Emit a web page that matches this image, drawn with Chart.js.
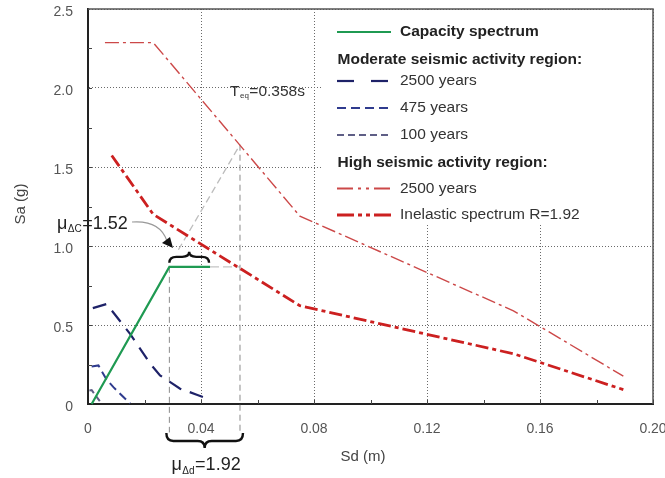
<!DOCTYPE html>
<html>
<head>
<meta charset="utf-8">
<script src="https://cdn.jsdelivr.net/npm/chart.js@4/dist/chart.umd.min.js"></script>
<style>
  html, body { margin: 0; padding: 0; background: #fff; }
  #wrap { width: 665px; height: 478px; position: relative; }
</style>
</head>
<body>
<div id="wrap"><canvas id="c" width="665" height="478"></canvas></div>
<script>
// ---------------- DATA ----------------
const xTickLabels = ['0', '0.04', '0.08', '0.12', '0.16', '0.20'];
const yTickLabels = ['0', '0.5', '1.0', '1.5', '2.0', '2.5'];

const capacitySd = [0.0013, 0.0288, 0.0432];
const capacitySa = [0.0, 0.868, 0.868];

const mod2500Sd = [0.0017, 0.0066, 0.0149, 0.0219, 0.0255, 0.0326, 0.0385, 0.0432];
const mod2500Sa = [0.607, 0.633, 0.444, 0.258, 0.181, 0.097, 0.059, 0.028];

const mod475Sd = [0.0013, 0.0037, 0.0066, 0.0090, 0.0119, 0.0149];
const mod475Sa = [0.238, 0.244, 0.154, 0.107, 0.055, 0.003];

const mod100Sd = [0.0005, 0.0013, 0.0048];
const mod100Sa = [0.086, 0.088, 0.003];

const high2500Sd = [0.0060, 0.0231, 0.0750, 0.1506, 0.1895];
const high2500Sa = [2.287, 2.287, 1.189, 0.590, 0.176];

const inelasticSd = [0.0084, 0.0231, 0.0750, 0.1506, 0.1895];
const inelasticSa = [1.573, 1.200, 0.622, 0.318, 0.091];

// guide / annotation lines
const teqLineSd = [0.0320, 0.0538];
const teqLineSa = [0.976, 1.641];
const yieldGuideSd = [0.0288, 0.0288];
const yieldGuideSa = [0.868, -0.18];
const perfGuideSd = [0.0538, 0.0538];
const perfGuideSa = [1.641, -0.18];
const capExtSd = [0.0432, 0.0538];
const capExtSa = [0.868, 0.868];

const labels = ['Capacity spectrum', '2500 years', '475 years', '100 years', '2500 years', 'Inelastic spectrum R=1.92'];

const pts = (xs, ys) => xs.map((x, i) => ({ x: x, y: ys[i] }));

const FONT = '"Liberation Sans", Arial, sans-serif';

const datasets = [
  { label: labels[0], data: pts(capacitySd, capacitySa), borderColor: '#1f9a52', borderWidth: 2.2, borderDash: [], legendDash: [] },
  { label: labels[1], data: pts(mod2500Sd, mod2500Sa), borderColor: '#1e2268', borderWidth: 2.2, borderDash: [14, 9], legendDash: [17, 17] },
  { label: labels[2], data: pts(mod475Sd, mod475Sa), borderColor: '#2f3b8e', borderWidth: 2, borderDash: [9, 5], legendDash: [9, 5] },
  { label: labels[3], data: pts(mod100Sd, mod100Sa), borderColor: '#5f5f86', borderWidth: 2, borderDash: [6, 4], legendDash: [7, 4] },
  { label: labels[4], data: pts(high2500Sd, high2500Sa), borderColor: '#cc4848', borderWidth: 1.4, borderDash: [14, 4, 3, 4], legendDash: [16, 5, 3, 5, 3, 5] },
  { label: labels[5], data: pts(inelasticSd, inelasticSa), borderColor: '#cc2020', borderWidth: 2.8, borderDash: [13, 4, 4, 4], legendDash: [17, 4, 4, 4, 4, 4] },
  { label: 'teq', data: pts(teqLineSd, teqLineSa), borderColor: '#bdbdbd', borderWidth: 1.3, borderDash: [7, 4], guide: true },
  { label: 'yield', data: pts(yieldGuideSd, yieldGuideSa), borderColor: '#8a8a8a', borderWidth: 1, borderDash: [6, 4], guide: true },
  { label: 'perf', data: pts(perfGuideSd, perfGuideSa), borderColor: '#8a8a8a', borderWidth: 1, borderDash: [6, 4], guide: true },
  { label: 'capext', data: pts(capExtSd, capExtSa), borderColor: '#c4c4c4', borderWidth: 1.3, borderDash: [9, 4], guide: true }
].map(d => Object.assign({ pointRadius: 0, tension: 0, fill: false, clip: false }, d));

// ---------------- helpers ----------------
function brace(ctx, x1, x2, yTip, yBar, yPeak) {
  const xm = (x1 + x2) / 2;
  const r = 7;
  ctx.beginPath();
  ctx.moveTo(x1, yTip);
  ctx.quadraticCurveTo(x1, yBar, x1 + r, yBar);
  ctx.lineTo(xm - r, yBar);
  ctx.quadraticCurveTo(xm, yBar, xm, yPeak);
  ctx.quadraticCurveTo(xm, yBar, xm + r, yBar);
  ctx.lineTo(x2 - r, yBar);
  ctx.quadraticCurveTo(x2, yBar, x2, yTip);
  ctx.stroke();
}

function subText(ctx, x, y, main, sub, rest, size, subSize, color) {
  ctx.fillStyle = color;
  ctx.textAlign = 'left';
  ctx.textBaseline = 'alphabetic';
  ctx.font = size + 'px ' + FONT;
  ctx.fillText(main, x, y);
  x += ctx.measureText(main).width + 0.5;
  ctx.font = subSize + 'px ' + FONT;
  ctx.fillText(sub, x, y + subSize * 0.35);
  x += ctx.measureText(sub).width + 0.5;
  ctx.font = size + 'px ' + FONT;
  ctx.fillText(rest, x, y);
}

const annot = {
  id: 'annot',
  beforeDatasetsDraw(chart) {
    const ctx = chart.ctx, a = chart.chartArea;
    // white legend background hiding the grid
    ctx.save();
    ctx.fillStyle = '#fff';
    ctx.fillRect(321, a.top + 1, a.right - 321 - 1, 213);
    ctx.restore();
  },
  afterDatasetsDraw(chart) {
    const ctx = chart.ctx, a = chart.chartArea;
    const xs = chart.scales.x, ys = chart.scales.y;
    ctx.save();
    // frame top / right
    ctx.strokeStyle = '#555';
    ctx.lineWidth = 1.5;
    ctx.setLineDash([]);
    ctx.beginPath();
    ctx.moveTo(a.left, a.top);
    ctx.lineTo(a.right, a.top);
    ctx.lineTo(a.right, a.bottom);
    ctx.stroke();
    // minor ticks (inward)
    ctx.strokeStyle = '#444';
    ctx.lineWidth = 1;
    for (let v = 0.02; v < 0.2; v += 0.02) {
      const px = Math.round(xs.getPixelForValue(v)) + 0.5;
      ctx.beginPath(); ctx.moveTo(px, a.bottom); ctx.lineTo(px, a.bottom - 4); ctx.stroke();
    }
    for (let v = 0.25; v < 2.5; v += 0.25) {
      const py = Math.round(ys.getPixelForValue(v)) + 0.5;
      ctx.beginPath(); ctx.moveTo(a.left, py); ctx.lineTo(a.left + 4, py); ctx.stroke();
    }

    // braces
    ctx.strokeStyle = '#111';
    ctx.lineWidth = 2.4;
    const xy = xs.getPixelForValue(yieldGuideSd[0]);
    const xp = xs.getPixelForValue(perfGuideSd[0]);
    const xc = xs.getPixelForValue(capacitySd[capacitySd.length - 1]);
    const yc = ys.getPixelForValue(capacitySa[1]);
    brace(ctx, xy - 3, xp + 3, a.bottom + 29, a.bottom + 37, a.bottom + 44);
    brace(ctx, xy, xc - 1, yc - 4, yc - 10, yc - 15);

    // curved arrow to upper brace
    ctx.strokeStyle = '#9a9a9a';
    ctx.lineWidth = 1.2;
    ctx.beginPath();
    ctx.moveTo(132, 222);
    ctx.quadraticCurveTo(160, 220, 167, 241);
    ctx.stroke();
    ctx.fillStyle = '#111';
    ctx.beginPath();
    ctx.moveTo(173, 248);
    ctx.lineTo(162, 243);
    ctx.lineTo(170, 237);
    ctx.closePath();
    ctx.fill();

    // text annotations
    subText(ctx, 57, 228.5, 'μ', 'ΔC', '=1.52', 18, 10, '#222');
    subText(ctx, 171.5, 470, 'μ', 'Δd', '=1.92', 18, 10, '#222');
    subText(ctx, 230, 95.5, 'T', 'eq', '=0.358s', 15.5, 8, '#333');

    // axis titles
    ctx.fillStyle = '#444';
    ctx.font = '15px ' + FONT;
    ctx.textAlign = 'center';
    ctx.textBaseline = 'middle';
    ctx.fillText('Sd (m)', 363, 457);
    ctx.save();
    ctx.translate(21, 204);
    ctx.rotate(-Math.PI / 2);
    ctx.fillText('Sa (g)', 0, 0);
    ctx.restore();

    // custom legend
    const rows = [
      { ds: 0, y: 32, bold: true },
      { head: 'Moderate seismic activity region:', y: 60 },
      { ds: 1, y: 81 },
      { ds: 2, y: 108 },
      { ds: 3, y: 135 },
      { head: 'High seismic activity region:', y: 163 },
      { ds: 4, y: 188.5 },
      { ds: 5, y: 215 }
    ];
    ctx.textAlign = 'left';
    ctx.textBaseline = 'middle';
    rows.forEach(r => {
      if (r.head) {
        ctx.fillStyle = '#222';
        ctx.font = 'bold 15.5px ' + FONT;
        ctx.fillText(r.head, 337.5, r.y);
        return;
      }
      const d = chart.data.datasets[r.ds];
      ctx.strokeStyle = d.borderColor;
      ctx.lineWidth = Math.max(d.borderWidth, 2);
      ctx.setLineDash(d.legendDash);
      ctx.beginPath();
      ctx.moveTo(337, r.y);
      ctx.lineTo(391, r.y);
      ctx.stroke();
      ctx.setLineDash([]);
      ctx.fillStyle = r.bold ? '#222' : '#333';
      ctx.font = (r.bold ? 'bold ' : '') + '15.5px ' + FONT;
      ctx.fillText(d.label, 400, r.y);
    });
    ctx.restore();
  }
};

new Chart(document.getElementById('c'), {
  type: 'line',
  data: { datasets: datasets },
  plugins: [annot],
  options: {
    responsive: false,
    animation: false,
    layout: { padding: { top: 9, right: 12, left: 0, bottom: 0 } },
    plugins: { legend: { display: false }, tooltip: { enabled: false } },
    scales: {
      x: {
        type: 'linear', min: 0, max: 0.2,
        ticks: {
          stepSize: 0.04, padding: 17, color: '#555',
          font: { family: FONT, size: 14 },
          maxRotation: 0, autoSkip: false,
          callback: (v, i) => xTickLabels[i]
        },
        grid: { color: '#6a6a6a', lineWidth: 1, drawTicks: false },
        border: { display: true, color: '#222', width: 2, dash: [1, 2] },
        afterFit: s => { s.height = 74; s.paddingLeft = 0; s.paddingRight = 0; }
      },
      y: {
        type: 'linear', min: 0, max: 2.5,
        ticks: {
          stepSize: 0.5, padding: 15, color: '#555', labelOffset: 3,
          font: { family: FONT, size: 14 },
          callback: (v, i) => yTickLabels[i]
        },
        grid: { color: '#6a6a6a', lineWidth: 1, drawTicks: false },
        border: { display: true, color: '#222', width: 2, dash: [1, 2] },
        afterFit: s => { s.width = 88; s.paddingTop = 0; s.paddingBottom = 0; }
      }
    }
  }
});
</script>
</body>
</html>
